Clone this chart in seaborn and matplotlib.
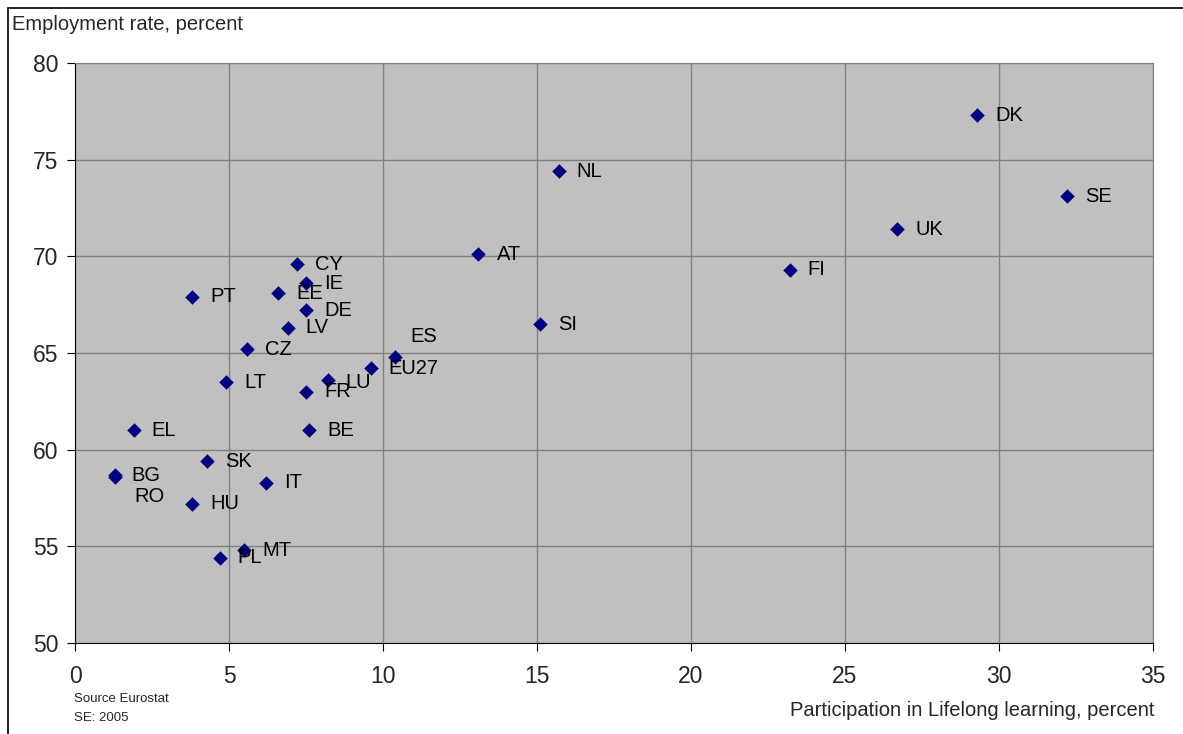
import pandas as pd
import numpy as np
import matplotlib
matplotlib.use('Agg')
import matplotlib.pyplot as plt
import seaborn as sns
from matplotlib.patches import Rectangle

# Дані: участь у навчанні протягом життя vs рівень зайнятості
countries = ['DK', 'SE', 'NL', 'UK', 'AT', 'FI', 'SI', 'CY', 'IE', 'EE', 'PT', 'DE',
             'LV', 'CZ', 'ES', 'EU27', 'LT', 'LU', 'FR', 'EL', 'BE', 'SK', 'BG', 'RO',
             'IT', 'HU', 'MT', 'PL']
lifelong = [29.3, 32.2, 15.7, 26.7, 13.1, 23.2, 15.1, 7.2, 7.5, 6.6, 3.8, 7.5,
            6.9, 5.6, 10.4, 9.6, 4.9, 8.2, 7.5, 1.9, 7.6, 4.3, 1.3, 1.3,
            6.2, 3.8, 5.5, 4.7]
employment = [77.3, 73.1, 74.4, 71.4, 70.1, 69.3, 66.5, 69.6, 68.6, 68.1, 67.9, 67.2,
              66.3, 65.2, 64.8, 64.2, 63.5, 63.6, 63.0, 61.0, 61.0, 59.4, 58.7, 58.6,
              58.3, 57.2, 54.8, 54.4]

df = pd.DataFrame({'country': countries, 'lifelong': lifelong, 'employment': employment})

# Зсуви підписів (у пікселях) для окремих точок
default_offset = (18, 0)
label_offsets = {'ES': (15, 20), 'RO': (19, -20), 'BG': (16, -1), 'LU': (18, -2)}

sns.set_style('ticks')
plt.rcParams['font.family'] = ['Liberation Sans', 'DejaVu Sans']

fig = plt.figure(figsize=(11.83, 7.34), dpi=100)
ax = fig.add_axes([75 / 1183, 1 - 643 / 734, (1153 - 75) / 1183, (643 - 63) / 734])
ax.set_facecolor('#C0C0C0')

sns.scatterplot(data=df, x='lifelong', y='employment', marker='D', s=55,
                color='#000080', edgecolor='#000080', linewidth=0, ax=ax, zorder=3)

for _, row in df.iterrows():
    dx, dy = label_offsets.get(row['country'], default_offset)
    ax.annotate(row['country'], (row['lifelong'], row['employment']),
                xytext=(dx * 0.72, dy * 0.72), textcoords='offset points',
                ha='left', va='center', fontsize=14.5, color='black', zorder=4)

ax.set_xlim(0, 35)
ax.set_ylim(50, 80)
ax.set_xticks(np.arange(0, 36, 5))
ax.set_yticks(np.arange(50, 81, 5))
ax.grid(True, color='#808080', linewidth=1)
ax.set_axisbelow(True)
ax.tick_params(axis='both', labelsize=16.5, direction='out', length=6, color='black')
ax.tick_params(axis='x', pad=10)
ax.tick_params(axis='y', pad=6)
for side in ['top', 'right']:
    ax.spines[side].set_color('#808080')
for side in ['left', 'bottom']:
    ax.spines[side].set_color('black')
ax.set_xlabel('')
ax.set_ylabel('')

fig.text(12 / 1183, 1 - 24 / 734, 'Employment rate, percent', fontsize=14.5, va='center', ha='left')
fig.text(1155 / 1183, 1 - 711 / 734, 'Participation in Lifelong learning, percent', fontsize=14.5,
         va='center', ha='right')
fig.text(74 / 1183, 1 - 699 / 734, 'Source Eurostat', fontsize=9.5, va='center', ha='left')
fig.text(74 / 1183, 1 - 718 / 734, 'SE: 2005', fontsize=9.5, va='center', ha='left')

# рамка діаграми
fig.patches.append(Rectangle((8 / 1183, -0.05), 1.2, 1 - 8 / 734 + 0.05, transform=fig.transFigure,
                             fill=False, edgecolor='black', linewidth=1.2))

fig.savefig('out.png', dpi=100)
